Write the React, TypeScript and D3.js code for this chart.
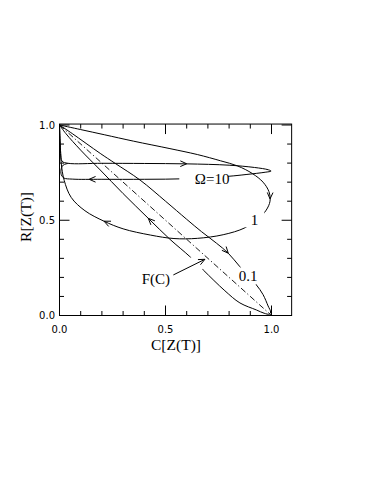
import React from "react";
import * as d3 from "d3";

// ---- data (C, R) pairs along each trajectory ----
const omega10: [number, number][] = [
  [0, 1], [0.003, 0.92], [0.006, 0.85], [0.012, 0.81], [0.04, 0.799], [0.2, 0.799],
  [0.4, 0.798], [0.6, 0.796], [0.8, 0.789], [0.92, 0.777], [0.985, 0.765], [0.998, 0.758],
  [0.97, 0.752], [0.88, 0.74], [0.8, 0.731], [0.6, 0.718], [0.4, 0.715], [0.2, 0.715],
  [0.06, 0.716], [0.02, 0.722], [0.008, 0.74], [0.008, 0.77], [0.018, 0.79], [0.04, 0.798],
];
const omega1: [number, number][] = [
  [0, 1], [0.1, 0.976], [0.211, 0.949], [0.35, 0.915], [0.521, 0.876], [0.65, 0.845],
  [0.76, 0.812], [0.84, 0.785], [0.91, 0.745], [0.96, 0.7], [0.988, 0.65], [0.993, 0.6],
  [0.975, 0.553], [0.94, 0.51], [0.874, 0.46], [0.772, 0.424], [0.65, 0.405], [0.54, 0.404],
  [0.43, 0.422], [0.3, 0.455], [0.21, 0.495], [0.12, 0.55], [0.055, 0.62], [0.022, 0.71],
  [0.008, 0.8], [0.003, 0.9], [0, 1],
];
const omega01: [number, number][] = [
  [0, 1], [0.06, 0.955], [0.192, 0.851], [0.262, 0.799], [0.38, 0.711], [0.5, 0.6],
  [0.6, 0.505], [0.67, 0.44], [0.74, 0.38], [0.796, 0.327], [0.851, 0.256], [0.9, 0.195],
  [0.929, 0.16], [0.96, 0.11], [0.984, 0.05], [0.996, 0.018], [0.99, 0.007], [0.965, 0.012],
  [0.929, 0.029], [0.851, 0.066], [0.78, 0.13], [0.678, 0.239], [0.615, 0.309], [0.521, 0.4],
  [0.419, 0.51], [0.3, 0.64], [0.192, 0.764], [0.1, 0.868], [0.03, 0.955], [0, 1],
];
const fLine: [number, number][] = [[0, 1], [1, 0]];

// gaps (label breaks) per curve: [c0, c1, r0, r1]
const gaps10 = [[0.565, 0.795, 0.7, 0.742]];
const gaps1 = [[0.876, 0.966, 0.462, 0.543]];
const gaps01 = [[0.853, 0.927, 0.162, 0.254], [0.618, 0.676, 0.242, 0.306]];

// arrows: [c, r, dc, dr]
const arrows: [number, number, number, number][] = [
  [0.6, 0.7965, 1, -0.01],
  [0.14, 0.715, -1, 0],
  [0.993, 0.612, -0.02, -1],
  [0.21, 0.495, -1, 0.5],
  [0.796, 0.327, 1, -1.25],
  [0.419, 0.51, -1, 1.1],
];
const fcArrow: [number, number][] = [[0.537, 0.213], [0.686, 0.295]];

const curveLabels = [
  { text: "Ω=10", c: 0.72, r: 0.718 },
  { text: "1", c: 0.92, r: 0.5 },
  { text: "0.1", c: 0.89, r: 0.208 },
  { text: "F(C)", c: 0.455, r: 0.19 },
];
const xTickLabels = ["0.0", "0.5", "1.0"];
const yTickLabels = ["0.0", "0.5", "1.0"];
const minorTicks = d3.range(0, 11).map((i) => i / 10);

export default function App() {
  const x = d3.scaleLinear().domain([0, 1]).range([59.5, 271.5]);
  const y = d3.scaleLinear().domain([0, 1]).range([315.5, 125]);
  const left = x(0), right = x(1.095), top = y(1.005), bottom = y(0);
  const line = d3
    .line<[number, number]>()
    .x((d) => x(d[0]))
    .y((d) => y(d[1]))
    .curve(d3.curveCatmullRom.alpha(0.5));
  const straight = d3.line<[number, number]>().x((d) => x(d[0])).y((d) => y(d[1]));

  const arrowHead = (px: number, py: number, dx: number, dy: number, key: string) => {
    const len = Math.hypot(dx, dy);
    const ux = dx / len, uy = dy / len;
    const L = 7, a = (24 * Math.PI) / 180;
    const bx = -ux, by = -uy;
    const p1 = [px + L * (bx * Math.cos(a) - by * Math.sin(a)), py + L * (bx * Math.sin(a) + by * Math.cos(a))];
    const p2 = [px + L * (bx * Math.cos(-a) - by * Math.sin(-a)), py + L * (bx * Math.sin(-a) + by * Math.cos(-a))];
    return (
      <path key={key} d={`M${p1[0]},${p1[1]}L${px},${py}L${p2[0]},${p2[1]}`} fill="none" stroke="#000" strokeWidth={1} />
    );
  };

  const mask = (id: string, gaps: number[][]) => (
    <mask id={id} maskUnits="userSpaceOnUse" x={0} y={0} width={374} height={484}>
      <rect x={0} y={0} width={374} height={484} fill="#fff" />
      {gaps.map((g, i) => (
        <rect key={i} x={x(g[0])} y={y(g[3])} width={x(g[1]) - x(g[0])} height={y(g[2]) - y(g[3])} fill="#000" />
      ))}
    </mask>
  );

  const serif = "'Liberation Serif', 'DejaVu Serif', serif";
  const sans = "'DejaVu Sans', sans-serif";

  return (
    <svg width={374} height={484} style={{ position: "absolute", left: 0, top: 0, background: "#fff" }}>
      <defs>
        {mask("m10", gaps10)}
        {mask("m1", gaps1)}
        {mask("m01", gaps01)}
      </defs>
      <rect x={0} y={0} width={374} height={484} fill="#fff" />
      {/* frame */}
      <rect x={left} y={top} width={right - left} height={bottom - top} fill="none" stroke="#000" strokeWidth={1} />
      {/* ticks */}
      {minorTicks.map((t, i) => {
        const major = i % 5 === 0;
        const L = major ? 10 : 4.5;
        return (
          <g key={i} stroke="#000" strokeWidth={1}>
            <line x1={x(t)} x2={x(t)} y1={bottom} y2={bottom - L} />
            <line x1={x(t)} x2={x(t)} y1={top} y2={top + L} />
            <line x1={left} x2={left + L} y1={y(t)} y2={y(t)} />
            <line x1={right} x2={right - L} y1={y(t)} y2={y(t)} />
          </g>
        );
      })}
      {xTickLabels.map((s, i) => (
        <text key={s} x={x(i * 0.5)} y={333} textAnchor="middle" fontFamily={sans} fontSize={10}>
          {s}
        </text>
      ))}
      {yTickLabels.map((s, i) => (
        <text key={s} x={55} y={y(i * 0.5) + 3.6} textAnchor="end" fontFamily={sans} fontSize={10}>
          {s}
        </text>
      ))}
      <text x={176} y={350} textAnchor="middle" fontFamily={serif} fontSize={15.5}>
        C[Z(T)]
      </text>
      <text transform={`translate(31,217) rotate(-90)`} textAnchor="middle" fontFamily={serif} fontSize={15.5}>
        R[Z(T)]
      </text>
      {/* curves */}
      <path d={line(omega10) || ""} fill="none" stroke="#000" strokeWidth={1} mask="url(#m10)" />
      <path d={line(omega1) || ""} fill="none" stroke="#000" strokeWidth={1} mask="url(#m1)" />
      <path d={line(omega01) || ""} fill="none" stroke="#000" strokeWidth={1} mask="url(#m01)" />
      <path d={straight(fLine) || ""} fill="none" stroke="#000" strokeWidth={0.9} strokeDasharray="6,2.5,1.2,2.5" />
      {arrows.map((a, i) => arrowHead(x(a[0]), y(a[1]), x(a[0] + a[2] * 0.01) - x(a[0]), y(a[1] + a[3] * 0.01) - y(a[1]), "a" + i))}
      <path d={straight(fcArrow) || ""} fill="none" stroke="#000" strokeWidth={1} />
      {arrowHead(
        x(fcArrow[1][0]),
        y(fcArrow[1][1]),
        x(fcArrow[1][0]) - x(fcArrow[0][0]),
        y(fcArrow[1][1]) - y(fcArrow[0][1]),
        "fc"
      )}
      {curveLabels.map((l) => (
        <text key={l.text} x={x(l.c)} y={y(l.r) + 5} textAnchor="middle" fontFamily={serif} fontSize={15}>
          {l.text}
        </text>
      ))}
    </svg>
  );
}
